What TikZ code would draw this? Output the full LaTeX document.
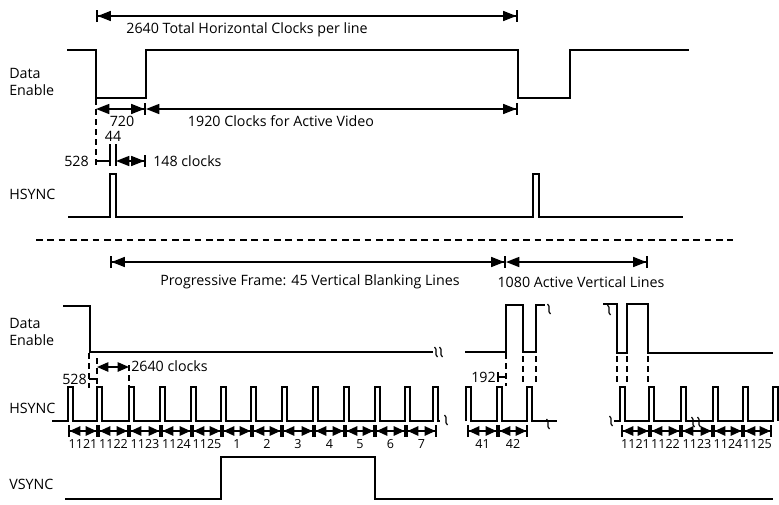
\documentclass[tikz,border=0pt]{standalone}
\usepackage{fontspec}
\setmainfont{Open Sans}
\usetikzlibrary{arrows.meta}
\begin{document}
\begin{tikzpicture}[x=0.75pt,y=-0.75pt,
  sig/.style={line width=1.5pt,line join=miter},
  dim/.style={line width=1.2pt},
  dsh/.style={line width=1.2pt,dash pattern=on 4.5pt off 3pt},
  sep/.style={line width=1.2pt,dash pattern=on 5pt off 3.5pt},
  lbl/.style={font=\fontsize{10.7}{12.5}\selectfont,inner sep=0pt},
  slbl/.style={font=\fontsize{9.4}{11}\selectfont,inner sep=0pt},
  bigarr/.style={dim,{Bar[width=9pt]Triangle[length=10pt,width=7.5pt]}-{Triangle[length=10pt,width=7.5pt]Bar[width=9pt]}},
  barR/.style={dim,{Triangle[length=10pt,width=7.5pt]}-{Triangle[length=10pt,width=7.5pt]Bar[width=9pt]}},
  twoarr/.style={dim,{Triangle[length=8.5pt,width=7pt]}-{Triangle[length=8.5pt,width=7pt]}},
  clk/.style={dim,{Bar[width=9pt]Triangle[length=8pt,width=7pt]}-{Triangle[length=8pt,width=7pt]Bar[width=9pt]}},
  brk/.pic={\draw[line width=0.9pt] (-1.5,-5) .. controls (2.5,-2) and (-2.5,2) .. (1.5,5);}
]
\useasboundingbox (0,0) rectangle (779,504);

% ---------------- top section ----------------
\draw[bigarr] (96,16) -- (518,16);
\node[lbl] (t2640) at (247,30) {2640 Total Horizontal Clocks per line};

\node[lbl,align=left,anchor=west] (de1) at (9,82) {Data\\Enable};
\draw[sig] (67,50) -- (96,50) -- (96,98) -- (146,98) -- (146,50) -- (518,50) -- (518,98) -- (570,98) -- (570,50) -- (689,50);

\draw[dsh] (96,99) -- (96,166);
\draw[barR] (96,109) -- (146,109);
\draw[barR] (146,109) -- (518,109);
\node[lbl] (t720) at (122,121) {720};
\node[lbl] (t1920) at (281,121) {1920 Clocks for Active Video};
\node[lbl] (t44) at (113,136) {44};
\draw[dim] (110,144) -- (110,166);
\draw[dim] (116,144) -- (116,166);
\draw[dim] (96,161) -- (110,161);
\draw[barR] (116,161) -- (146,161);
\node[lbl,anchor=east] (t528) at (89,161) {528};
\node[lbl,anchor=west] (t148) at (153,161) {148 clocks};

\node[lbl,anchor=west] (hs1) at (9,194) {HSYNC};
\draw[sig] (68,217) -- (110,217) -- (110,174) -- (116,174) -- (116,217) -- (533,217) -- (533,174) -- (539,174) -- (539,217) -- (683,217);

\draw[sep] (36,240) -- (733,240);

% ---------------- bottom section ----------------
\draw[bigarr] (110,262) -- (506,262);
\draw[barR] (506,262) -- (648,262);
\node[lbl] (tprog) at (310,282) {Progressive Frame: 45 Vertical Blanking Lines};
\node[lbl] (t1080) at (581,282) {1080 Active Vertical Lines};

\node[lbl,align=left,anchor=west] (de2) at (9,332) {Data\\Enable};
\draw[sig] (63,306) -- (90,306) -- (90,352) -- (433,352);
\pic at (436,352) {brk};
\pic at (441,352) {brk};
\draw[sig] (465,352) -- (506,352) -- (506,305) -- (523,305) -- (523,352) -- (536,352) -- (536,305) -- (545,305);
\pic at (549,309) {brk};
\draw[sig] (603,304) -- (617,304) -- (617,353) -- (627,353) -- (627,304) -- (648,304) -- (648,353) -- (773,353);
\pic at (609,310) {brk};

% dashed markers
\draw[dsh] (89,353) -- (89,388);
\draw[dsh] (97,358) -- (97,386);
\draw[dsh] (129,365) -- (129,387);
\draw[dim] (89,379) -- (97,379);
\draw[twoarr] (97,367) -- (129,367);
\node[lbl,anchor=east] (t528b) at (87,379) {528};
\node[lbl,anchor=west] (t2640b) at (131,366) {2640 clocks};

\draw[dsh] (506,353) -- (506,386);
\draw[dsh] (523,356) -- (523,384);
\draw[dsh] (536,356) -- (536,384);
\draw[dim] (498,372) -- (498,382);
\draw[dim] (498,377) -- (506,377);
\node[lbl,anchor=east] (t192) at (496,377) {192};

\draw[dsh] (617,356) -- (617,382);
\draw[dsh] (627,356) -- (627,384);
\draw[dsh] (648,356) -- (648,384);

% HSYNC bottom
\node[lbl,anchor=west] (hs2) at (9,408) {HSYNC};
\draw[sig] (52,421) \foreach \p in {68,97,129,160,191,221,251,282,313,344,375,405,433} { -- (\p,421) -- (\p,387) -- ({\p+5},387) -- ({\p+5},421) } -- (440,421);
\pic at (446,420) {brk};
\draw[sig] (466,421) -- (466,387) -- (471,387) -- (471,421) \foreach \p in {497,527} { -- (\p,421) -- (\p,387) -- ({\p+5},387) -- ({\p+5},421) } -- (557,421);
\pic at (548,424) {brk};
\pic at (611,421) {brk};
\draw[sig] (614,421) \foreach \p in {620,649,681,713,743,773} { -- (\p,421) -- (\p,387) -- ({\p+5},387) -- ({\p+5},421) };
\pic at (693,422) {brk};
\pic at (699,422) {brk};

% clock counts
\foreach \a/\b/\t in {68/98/1121,98/129/1122,129/161/1123,161/192/1124,192/222/1125,222/252/1,252/282/2,282/314/3,314/345/4,345/375/5,375/406/6,406/437/7,
  467/498/41,498/528/42,
  621/650/1121,650/681/1122,681/713/1123,713/743/1124,743/772/1125} {
  \draw[clk] (\a,431) -- (\b,431);
  \node[slbl] at ({(\a+\b)/2},444) {\t};
}

% VSYNC
\node[lbl,anchor=west] (vs) at (9,484) {VSYNC};
\draw[sig] (65,499) -- (221,499) -- (221,457) -- (375,457) -- (375,499) -- (773,499);
\end{tikzpicture}
\end{document}
